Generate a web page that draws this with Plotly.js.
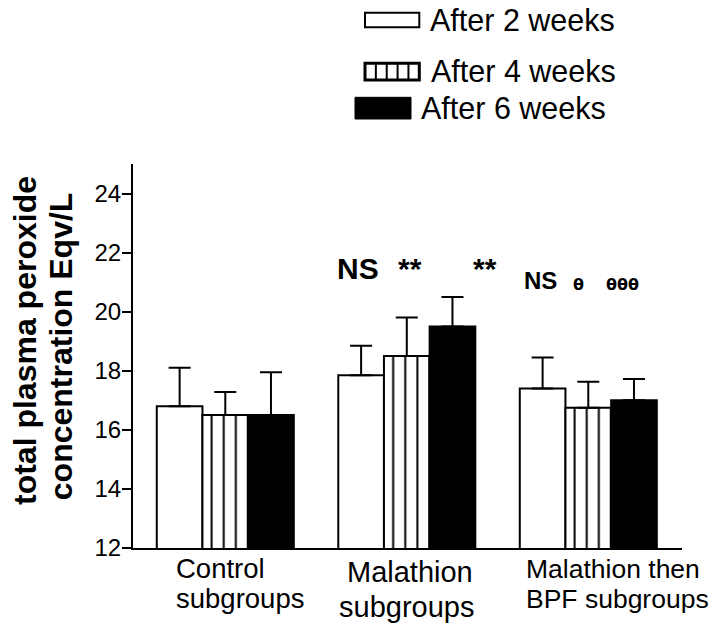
<!DOCTYPE html>
<html>
<head>
<meta charset="utf-8">
<script src="https://cdn.plot.ly/plotly-3.0.1.min.js"></script>
<style>
  html, body { margin: 0; padding: 0; background: #fff; }
  #chart { width: 711px; height: 623px; }
</style>
</head>
<body>
<div id="chart"></div>
<script>
// Total plasma peroxide concentration per subgroup after 2, 4 and 6 weeks
const categories = ["Control subgroups", "Malathion subgroups", "Malathion then BPF subgroups"];
const categoryLines = [["Control", "subgroups"], ["Malathion", "subgroups"], ["Malathion then", "BPF subgroups"]];
const seriesNames = ["After 2 weeks", "After 4 weeks", "After 6 weeks"];
const week2 = [16.8, 17.85, 17.4];
const week4 = [16.5, 18.5, 16.75];
const week6 = [16.5, 19.5, 17.0];
const week2Err = [1.3, 1.0, 1.05];
const week4Err = [0.78, 1.3, 0.88];
const week6Err = [1.45, 1.0, 0.72];
const yTicks = [12, 14, 16, 18, 20, 22, 24];
const malathionMarks = ["NS", "**", "**"];
const bpfMarks = ["NS", "θ", "θθθ"];

// page geometry, used to place the free-standing texts and key swatches in pixels
const W = 711, H = 623;
const M = { l: 133, r: 29, t: 164, b: 75 };
const PW = W - M.l - M.r, PH = H - M.t - M.b;
const fx = px => (px - M.l) / PW;
const fy = py => (H - M.b - py) / PH;

const FONT = "Liberation Sans, Arial, Helvetica, sans-serif";
const BLACK = "#000000";

function barTrace(name, values, errors, fill, pattern) {
  return {
    type: "bar",
    name: name,
    x: categories,
    y: values,
    marker: { color: fill, line: { color: BLACK, width: 2 }, pattern: pattern },
    error_y: {
      type: "data", symmetric: false, array: errors, arrayminus: [0, 0, 0],
      color: BLACK, thickness: 2, width: 11
    },
    showlegend: false,
    hoverinfo: "skip"
  };
}

const traces = [
  barTrace(seriesNames[0], week2, week2Err, "#ffffff", { shape: "" }),
  barTrace(seriesNames[1], week4, week4Err, "#ffffff",
    { shape: "|", size: 12.1, solidity: 0.165, fgcolor: BLACK, bgcolor: "#ffffff", fillmode: "replace" }),
  barTrace(seriesNames[2], week6, week6Err, BLACK, { shape: "" })
];

// text placed by its baseline (px) and horizontal anchor point (px)
function text(str, px, baselinePx, size, opts) {
  opts = opts || {};
  return {
    xref: "paper", yref: "paper",
    x: fx(px), y: fy(baselinePx - 0.35 * size),
    xanchor: opts.anchor || "center", yanchor: "middle",
    text: str, showarrow: false,
    font: { family: opts.family || FONT, size: size, color: BLACK, weight: opts.weight || "normal" }
  };
}

const annotations = [];

// category labels under the axis
annotations.push(text(categoryLines[0][0], 174, 578.3, 27.5, { anchor: "left" }));
annotations.push(text(categoryLines[0][1], 174, 608.3, 27.5, { anchor: "left" }));
annotations.push(text(categoryLines[1][0], 410, 581.7, 29));
annotations.push(text(categoryLines[1][1], 406, 616.7, 29));
annotations.push(text(categoryLines[2][0], 524, 578.3, 26.5, { anchor: "left" }));
annotations.push(text(categoryLines[2][1], 524, 608.3, 26.5, { anchor: "left" }));

// significance marks
annotations.push(text(malathionMarks[0], 357.5, 278.7, 30, { weight: "bold" }));
annotations.push(text(malathionMarks[1], 410, 278.7, 30, { weight: "bold" }));
annotations.push(text(malathionMarks[2], 485, 278.7, 30, { weight: "bold" }));
annotations.push(text(bpfMarks[0], 540.5, 288.6, 24, { weight: "bold" }));
annotations.push(text(bpfMarks[1], 578, 290.5, 16, { weight: "bold", family: "DejaVu Sans, sans-serif" }));
annotations.push(text(bpfMarks[2], 622.5, 290.5, 16, { weight: "bold", family: "DejaVu Sans, sans-serif" }));

// key texts
annotations.push(text(seriesNames[0], 428, 30.7, 30.5, { anchor: "left" }));
annotations.push(text(seriesNames[1], 429, 81.7, 30.5, { anchor: "left" }));
annotations.push(text(seriesNames[2], 419, 119, 30.5, { anchor: "left" }));

// rotated two-line axis title
function vtitle(str, centerX, centerY, size) {
  return {
    xref: "paper", yref: "paper", x: fx(centerX), y: fy(centerY),
    xanchor: "center", yanchor: "middle", textangle: -90,
    text: str, showarrow: false,
    font: { family: FONT, size: size, color: BLACK, weight: "bold" }
  };
}
annotations.push(vtitle("total plasma peroxide", 25, 341, 32));
annotations.push(vtitle("concentration Eqv/L", 60.6, 346.6, 32));

// key swatches
const shapes = [];
shapes.push({ type: "rect", xref: "paper", yref: "paper",
  x0: fx(365), x1: fx(419.3), y0: fy(27.3), y1: fy(12.7),
  line: { color: BLACK, width: 2 }, fillcolor: "#ffffff" });
shapes.push({ type: "rect", xref: "paper", yref: "paper",
  x0: fx(365), x1: fx(419.3), y0: fy(80), y1: fy(63.3),
  line: { color: BLACK, width: 3 }, fillcolor: "#ffffff" });
for (let i = 1; i < 5; i++) {
  const px = 365 + (419.3 - 365) * i / 5;
  shapes.push({ type: "line", xref: "paper", yref: "paper",
    x0: fx(px), x1: fx(px), y0: fy(80), y1: fy(63.3),
    line: { color: BLACK, width: 2 } });
}
shapes.push({ type: "rect", xref: "paper", yref: "paper",
  x0: fx(355), x1: fx(411), y0: fy(119), y1: fy(97.3),
  line: { color: BLACK, width: 1 }, fillcolor: BLACK });

const layout = {
  width: W, height: H,
  margin: { l: M.l, r: M.r, t: M.t, b: M.b, pad: 0 },
  paper_bgcolor: "#ffffff", plot_bgcolor: "#ffffff",
  barmode: "group", bargap: 0.245, bargroupgap: 0,
  showlegend: false,
  xaxis: {
    type: "category", range: [-0.5085, 2.5163],
    showline: true, linecolor: BLACK, linewidth: 2,
    ticks: "", showticklabels: false, showgrid: false, zeroline: false, fixedrange: true
  },
  yaxis: {
    range: [12, 25], tickmode: "array", tickvals: yTicks, ticktext: yTicks.map(String),
    ticks: "outside", ticklen: 9, tickwidth: 2, tickcolor: BLACK,
    showline: true, linecolor: BLACK, linewidth: 2,
    showgrid: false, zeroline: false, fixedrange: true,
    ticklabelstandoff: -4,
    tickfont: { family: FONT, size: 24, color: BLACK }
  },
  annotations: annotations,
  shapes: shapes
};

Plotly.newPlot("chart", traces, layout, { staticPlot: true, displayModeBar: false });
</script>
</body>
</html>
